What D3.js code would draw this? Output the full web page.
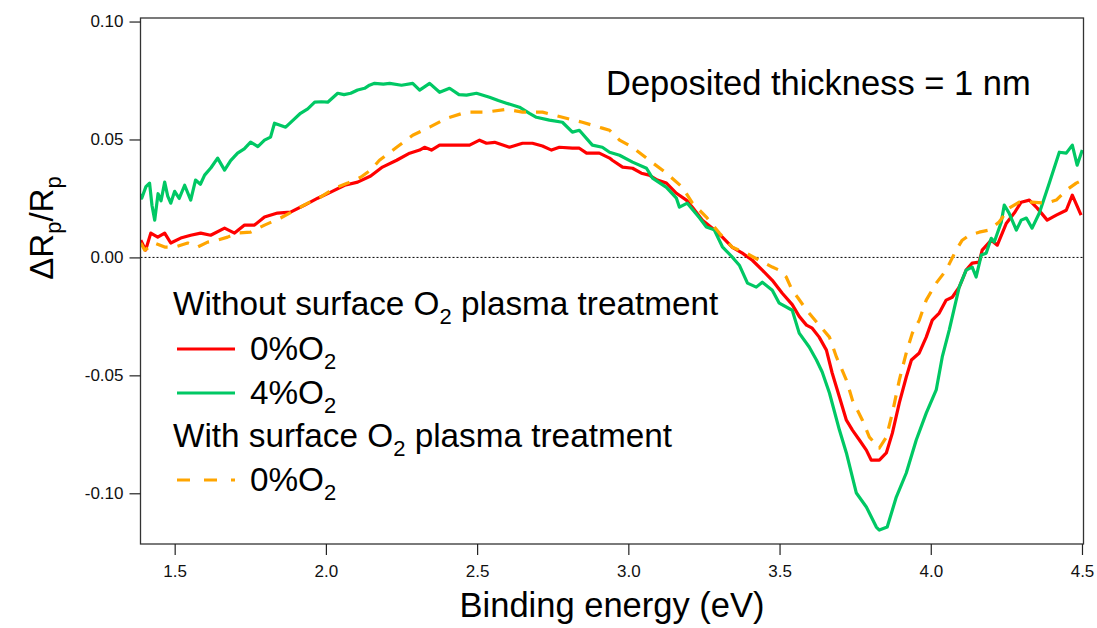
<!DOCTYPE html>
<html><head><meta charset="utf-8">
<script src="https://cdn.jsdelivr.net/npm/d3@7"></script>
<style>
body{margin:0;background:#fff;}
svg text{font-family:Arial,"Liberation Sans",sans-serif;}
</style></head>
<body><svg id="c" width="1097" height="628"></svg>
<script>
const xTicks = [1.5, 2.0, 2.5, 3.0, 3.5, 4.0, 4.5];
const yTicks = [0.10, 0.05, 0.00, -0.05, -0.10];
const xTickLabels = ["1.5","2.0","2.5","3.0","3.5","4.0","4.5"];
const yTickLabels = ["0.10","0.05","0.00","-0.05","-0.10"];

const greenE = [1.388,1.391,1.405,1.417,1.425,1.434,1.445,1.455,1.467,1.477,1.487,1.500,1.515,1.533,1.553,1.569,1.585,1.599,1.620,1.642,1.665,1.685,1.708,1.730,1.751,1.775,1.797,1.817,1.830,1.867,1.890,1.916,1.940,1.963,1.985,2.006,2.039,2.060,2.082,2.105,2.128,2.144,2.161,2.190,2.211,2.250,2.287,2.310,2.343,2.376,2.409,2.440,2.465,2.498,2.541,2.570,2.597,2.640,2.673,2.696,2.739,2.782,2.815,2.838,2.881,2.914,2.938,2.971,3.014,3.060,3.080,3.126,3.159,3.169,3.195,3.235,3.258,3.284,3.311,3.344,3.367,3.394,3.423,3.443,3.476,3.499,3.542,3.565,3.598,3.622,3.641,3.665,3.698,3.721,3.754,3.787,3.820,3.830,3.856,3.886,3.919,3.952,3.985,4.018,4.038,4.061,4.094,4.117,4.137,4.150,4.167,4.183,4.200,4.210,4.233,4.243,4.259,4.283,4.299,4.316,4.335,4.359,4.392,4.425,4.448,4.468,4.484,4.501];
const greenV = [0.027,0.0251,0.030,0.0315,0.022,0.0158,0.027,0.024,0.0319,0.026,0.023,0.028,0.025,0.0306,0.0243,0.0328,0.031,0.0349,0.038,0.0421,0.0370,0.041,0.0442,0.046,0.0489,0.047,0.0497,0.051,0.0569,0.0552,0.058,0.0611,0.063,0.0658,0.066,0.0658,0.0696,0.069,0.0696,0.071,0.0717,0.073,0.0738,0.0735,0.0738,0.073,0.0738,0.0709,0.0738,0.070,0.0717,0.069,0.0688,0.0696,0.0679,0.0665,0.0654,0.0637,0.0611,0.0594,0.0582,0.0573,0.0531,0.0539,0.0476,0.0467,0.0446,0.0433,0.0404,0.0378,0.0336,0.0297,0.0251,0.0213,0.0230,0.0168,0.0129,0.0117,0.0045,0.0001,-0.0033,-0.0109,-0.0126,-0.0105,-0.0139,-0.0194,-0.0224,-0.0321,-0.0380,-0.0435,-0.0486,-0.0575,-0.0732,-0.0829,-0.0999,-0.1058,-0.1143,-0.1156,-0.1143,-0.1016,-0.0914,-0.0774,-0.0660,-0.0562,-0.0422,-0.0308,-0.0126,-0.0054,-0.0041,-0.0083,0.0010,0.0018,0.0081,0.0065,0.0149,0.0222,0.0188,0.0116,0.0158,0.0167,0.0124,0.0188,0.0315,0.0446,0.0442,0.0476,0.0391,0.0455];

const redE = [1.388,1.404,1.421,1.444,1.467,1.487,1.520,1.553,1.586,1.619,1.665,1.698,1.731,1.764,1.797,1.840,1.883,1.930,1.973,2.016,2.062,2.105,2.148,2.187,2.234,2.277,2.310,2.326,2.349,2.376,2.419,2.475,2.508,2.531,2.558,2.607,2.650,2.683,2.716,2.746,2.772,2.815,2.838,2.862,2.904,2.938,2.947,2.981,3.014,3.043,3.069,3.096,3.126,3.159,3.192,3.212,3.245,3.278,3.311,3.344,3.377,3.410,3.443,3.476,3.509,3.542,3.565,3.589,3.608,3.631,3.655,3.674,3.698,3.721,3.741,3.764,3.787,3.803,3.830,3.853,3.873,3.896,3.919,3.936,3.962,3.985,4.005,4.028,4.051,4.071,4.094,4.117,4.137,4.160,4.170,4.200,4.220,4.250,4.276,4.299,4.326,4.352,4.385,4.415,4.448,4.468,4.497];
const redV = [0.0073,0.0031,0.0103,0.0086,0.0103,0.0061,0.0082,0.0094,0.0103,0.0094,0.0124,0.0103,0.0137,0.0137,0.0171,0.0188,0.0192,0.0222,0.0251,0.0277,0.0306,0.0319,0.0345,0.0383,0.0412,0.0442,0.0455,0.0467,0.0455,0.0476,0.0476,0.0476,0.0497,0.0484,0.0488,0.0467,0.0484,0.0484,0.0472,0.0455,0.0467,0.0463,0.0463,0.0442,0.0442,0.0421,0.0412,0.0383,0.0378,0.0357,0.0349,0.0328,0.0315,0.0272,0.0243,0.0213,0.0158,0.0124,0.0086,0.0043,0.0018,-0.0012,-0.0054,-0.0097,-0.0152,-0.0200,-0.0250,-0.0287,-0.0300,-0.0338,-0.0393,-0.0490,-0.0592,-0.0690,-0.0732,-0.0774,-0.0817,-0.0859,-0.0859,-0.0829,-0.0745,-0.0617,-0.0507,-0.0435,-0.0405,-0.0338,-0.0266,-0.0236,-0.0181,-0.0169,-0.0126,-0.0054,-0.0024,-0.0020,0.0031,0.0073,0.0052,0.0145,0.0188,0.0234,0.0243,0.0209,0.0158,0.0179,0.0200,0.0264,0.0179];

const orangeE = [1.388,1.401,1.434,1.467,1.500,1.543,1.576,1.609,1.642,1.675,1.708,1.751,1.797,1.850,1.897,1.940,1.982,2.029,2.072,2.115,2.148,2.177,2.234,2.287,2.343,2.399,2.465,2.531,2.597,2.650,2.716,2.782,2.848,2.914,2.938,2.971,3.014,3.069,3.126,3.179,3.212,3.258,3.301,3.344,3.390,3.433,3.476,3.499,3.522,3.542,3.560,3.589,3.631,3.665,3.688,3.721,3.741,3.774,3.797,3.830,3.853,3.873,3.896,3.919,3.939,3.962,3.985,4.018,4.051,4.084,4.104,4.127,4.160,4.193,4.226,4.259,4.292,4.335,4.382,4.415,4.448,4.481,4.501];
const orangeV = [0.0061,0.0031,0.0061,0.0044,0.0044,0.0061,0.0044,0.0065,0.0073,0.0086,0.0103,0.0107,0.0137,0.0167,0.0200,0.0230,0.0256,0.0294,0.0315,0.0340,0.0370,0.0412,0.0467,0.0518,0.0552,0.0590,0.0616,0.0616,0.0628,0.0616,0.0616,0.0594,0.0573,0.0548,0.0539,0.0497,0.0467,0.0412,0.0357,0.0297,0.0230,0.0171,0.0103,0.0043,0.0018,-0.0012,-0.0041,-0.0054,-0.0083,-0.0140,-0.0170,-0.0223,-0.0287,-0.0338,-0.0422,-0.0520,-0.0605,-0.0690,-0.0762,-0.0808,-0.0762,-0.0660,-0.0520,-0.0405,-0.0321,-0.0266,-0.0181,-0.0109,-0.0054,0.0031,0.0073,0.0094,0.0107,0.0116,0.0150,0.0209,0.0234,0.0234,0.0230,0.0243,0.0285,0.0315,0.0328];

const svg = d3.select("#c");
const L = 140.5, R = 1083.5, T = 18, B = 544;
const x = d3.scaleLinear().domain([1.387, 4.505]).range([L, R]);
const y = d3.scaleLinear().domain([-0.1215, 0.1015]).range([B, T]);

svg.append("defs").append("clipPath").attr("id","clip")
  .append("rect").attr("x",L).attr("y",T).attr("width",R-L).attr("height",B-T);

// zero line
svg.append("line").attr("x1",L).attr("x2",R).attr("y1",y(0)).attr("y2",y(0))
  .attr("stroke","#000").attr("stroke-width",1).attr("stroke-dasharray","2,2");

const line = d3.line().x(d=>x(d[0])).y(d=>y(d[1]));
const g = svg.append("g").attr("clip-path","url(#clip)");
const series = [
  {E: redE, V: redV, color:"#ff0000", dash:null},
  {E: orangeE, V: orangeV, color:"#ffa500", dash:"12,10"},
  {E: greenE, V: greenV, color:"#00c864", dash:null}
];
[series[0], series[2], series[1]].forEach(s=>{
  g.append("path").datum(s.E.map((e,i)=>[e,s.V[i]]))
    .attr("d", line).attr("fill","none").attr("stroke", s.color)
    .attr("stroke-width",3.2).attr("stroke-linejoin","round")
    .attr("stroke-dasharray", s.dash);
});

// frame
svg.append("rect").attr("x",L).attr("y",T).attr("width",R-L).attr("height",B-T)
  .attr("fill","none").attr("stroke","#333").attr("stroke-width",1.3);

// axes
const xAxis = d3.axisBottom(x).tickValues(xTicks).tickFormat((d,i)=>xTickLabels[i]).tickSize(11).tickPadding(10);
const gx = svg.append("g").attr("transform",`translate(0,${B})`).call(xAxis);
const yAxis = d3.axisLeft(y).tickValues(yTicks).tickFormat((d,i)=>yTickLabels[i]).tickSize(11).tickPadding(6);
const gy = svg.append("g").attr("transform",`translate(${L},0)`).call(yAxis);
[gx, gy].forEach(a=>{
  a.select(".domain").remove();
  a.selectAll(".tick line").attr("stroke","#222").attr("stroke-width",1.2);
  a.selectAll(".tick text").attr("font-size",17).attr("fill","#111")
    .style("font-family",'Arial,"Liberation Sans",sans-serif');
});

// axis titles
svg.append("text").attr("x",612).attr("y",617).attr("text-anchor","middle")
  .attr("font-size",34.5).text("Binding energy (eV)");
const yl = svg.append("text").attr("transform","translate(53,228) rotate(-90)")
  .attr("text-anchor","middle").attr("font-size",33);
yl.append("tspan").text("ΔR");
yl.append("tspan").attr("font-size",22).attr("dy",8).text("p");
yl.append("tspan").attr("dy",-8).text("/R");
yl.append("tspan").attr("font-size",22).attr("dy",8).text("p");

// annotation
svg.append("text").attr("x",606).attr("y",95).attr("font-size",34.5).text("Deposited thickness = 1 nm");

// legend
function o2text(xp, yp, pre, post){
  const t = svg.append("text").attr("x",xp).attr("y",yp).attr("font-size",33.3);
  t.append("tspan").text(pre + "O");
  t.append("tspan").attr("font-size",22).attr("dy",9).text("2");
  if(post) t.append("tspan").attr("dy",-9).text(post);
  return t;
}
o2text(173, 315, "Without surface ", " plasma treatment");
svg.append("line").attr("x1",177).attr("x2",235).attr("y1",349).attr("y2",349).attr("stroke","#ff0000").attr("stroke-width",3.2);
o2text(250, 360, "0%", null);
svg.append("line").attr("x1",177).attr("x2",235).attr("y1",393).attr("y2",393).attr("stroke","#00c864").attr("stroke-width",3.2);
o2text(250, 404, "4%", null);
o2text(173, 447, "With surface ", " plasma treatment");
svg.append("line").attr("x1",177).attr("x2",235).attr("y1",480).attr("y2",480).attr("stroke","#ffa500").attr("stroke-width",3.2).attr("stroke-dasharray","13,14");
o2text(250, 491, "0%", null);
</script></body></html>
